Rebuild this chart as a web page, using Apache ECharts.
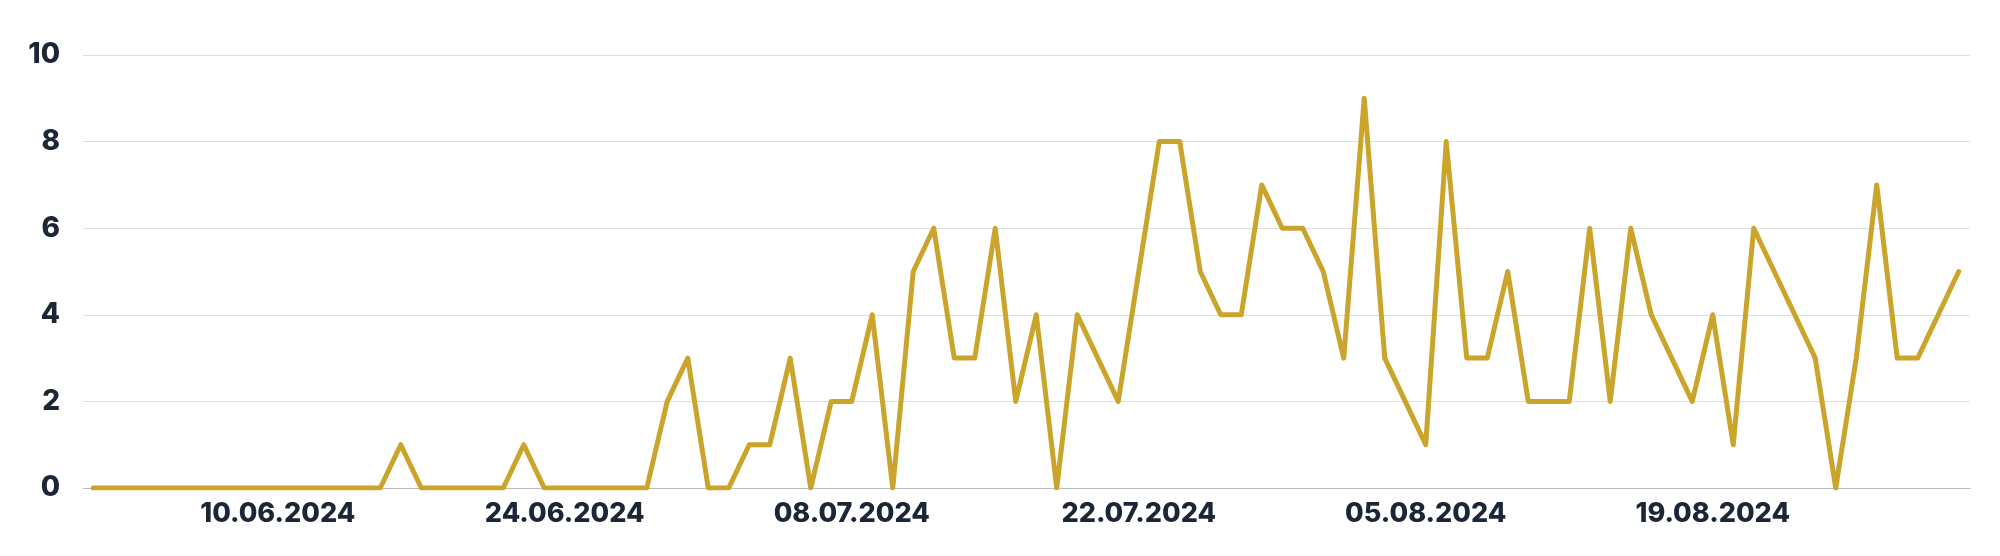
<!DOCTYPE html>
<html>
<head>
<meta charset="utf-8">
<title>Chart</title>
<script src="https://cdn.jsdelivr.net/npm/echarts@6/dist/echarts.min.js"></script>
<style>
  html, body { margin: 0; padding: 0; background: #ffffff; }
  #chart { width: 2000px; height: 556px; }
</style>
</head>
<body>
<div id="chart"></div>
<script>
// ---- data ----
const dates = [
  '2024-06-01','2024-06-02','2024-06-03','2024-06-04','2024-06-05','2024-06-06','2024-06-07','2024-06-08','2024-06-09','2024-06-10',
  '2024-06-11','2024-06-12','2024-06-13','2024-06-14','2024-06-15','2024-06-16','2024-06-17','2024-06-18','2024-06-19','2024-06-20',
  '2024-06-21','2024-06-22','2024-06-23','2024-06-24','2024-06-25','2024-06-26','2024-06-27','2024-06-28','2024-06-29','2024-06-30',
  '2024-07-01','2024-07-02','2024-07-03','2024-07-04','2024-07-05','2024-07-06','2024-07-07','2024-07-08','2024-07-09','2024-07-10',
  '2024-07-11','2024-07-12','2024-07-13','2024-07-14','2024-07-15','2024-07-16','2024-07-17','2024-07-18','2024-07-19','2024-07-20',
  '2024-07-21','2024-07-22','2024-07-23','2024-07-24','2024-07-25','2024-07-26','2024-07-27','2024-07-28','2024-07-29','2024-07-30',
  '2024-07-31','2024-08-01','2024-08-02','2024-08-03','2024-08-04','2024-08-05','2024-08-06','2024-08-07','2024-08-08','2024-08-09',
  '2024-08-10','2024-08-11','2024-08-12','2024-08-13','2024-08-14','2024-08-15','2024-08-16','2024-08-17','2024-08-18','2024-08-19',
  '2024-08-20','2024-08-21','2024-08-22','2024-08-23','2024-08-24','2024-08-25','2024-08-26','2024-08-27','2024-08-28','2024-08-29',
  '2024-08-30','2024-08-31'
];
const values = [
  0,0,0,0,0,0,0,0,0,0,
  0,0,0,0,0,1,0,0,0,0,
  0,1,0,0,0,0,0,0,2,3,
  0,0,1,1,3,0,2,2,4,0,
  5,6,3,3,6,2,4,0,4,3,
  2,5,8,8,5,4,4,7,6,6,
  5,3,9,3,2,1,8,3,3,5,
  2,2,2,6,2,6,4,3,2,4,
  1,6,5,4,3,0,3,7,3,3,
  4,5
];
const xTickDates = ['2024-06-10','2024-06-24','2024-07-08','2024-07-22','2024-08-05','2024-08-19'];
const yTicks = [0, 2, 4, 6, 8, 10];

// ---- helpers ----
function toUTC(s) {
  const p = s.split('-').map(Number);
  return Date.UTC(p[0], p[1] - 1, p[2]);
}
function fmt(v) {
  const d = new Date(v);
  const dd = String(d.getUTCDate()).padStart(2, '0');
  const mm = String(d.getUTCMonth() + 1).padStart(2, '0');
  return dd + '.' + mm + '.' + d.getUTCFullYear();
}
const DAY = 86400000;
const seriesData = dates.map((d, i) => [toUTC(d), values[i]]);
const xMin = toUTC(dates[0]) - 0.5 * DAY;
const xMax = toUTC(dates[dates.length - 1]) + 0.55 * DAY;

const FONT = 'Inter';
const TEXT = '#1b2636';

const chart = echarts.init(document.getElementById('chart'), null, { renderer: 'canvas' });
chart.setOption({
  animation: false,
  backgroundColor: '#ffffff',
  grid: { left: 83, right: 30, top: 55, bottom: 68, containLabel: false },
  xAxis: {
    type: 'value',
    min: xMin,
    max: xMax,
    axisLine: { show: true, lineStyle: { color: '#b9bdc3', width: 1 } },
    axisTick: { show: false },
    splitLine: { show: false },
    axisLabel: {
      customValues: xTickDates.map(toUTC),
      formatter: (v) => fmt(v),
      color: TEXT,
      fontFamily: FONT,
      fontWeight: 800,
      fontSize: 27,
      margin: 12
    }
  },
  yAxis: {
    type: 'value',
    min: yTicks[0],
    max: yTicks[yTicks.length - 1],
    interval: 2,
    axisLine: { show: false },
    axisTick: { show: false },
    splitLine: { show: true, lineStyle: { color: '#dedfe1', width: 1 } },
    axisLabel: {
      color: TEXT,
      fontFamily: FONT,
      fontWeight: 800,
      fontSize: 28,
      margin: 23
    }
  },
  series: [{
    type: 'line',
    data: seriesData,
    showSymbol: false,
    symbol: 'none',
    lineStyle: { color: '#cba42c', width: 5, cap: 'round', join: 'round' },
    itemStyle: { color: '#cba42c' },
    z: 3
  }]
});
</script>
</body>
</html>
